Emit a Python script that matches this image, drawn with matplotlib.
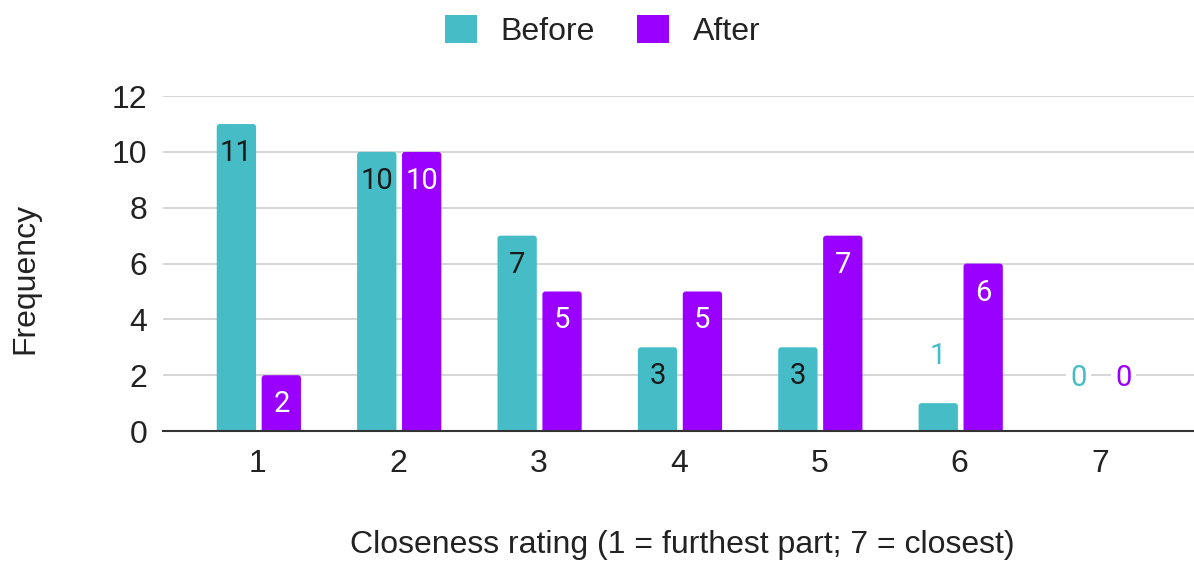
import matplotlib
matplotlib.use("Agg")
import matplotlib.pyplot as plt
from matplotlib.patches import FancyBboxPatch, Patch
import numpy as np

plt.rcParams['font.family'] = ['Liberation Sans', 'DejaVu Sans']

categories = ["1", "2", "3", "4", "5", "6", "7"]
before = [11, 10, 7, 3, 3, 1, 0]
after = [2, 10, 5, 5, 7, 6, 0]
yticks = [0, 2, 4, 6, 8, 10, 12]

TEAL = "#46bdc6"
PURPLE = "#9900ff"
TEXT = "#222222"
AX_FS = 23
LBL_FS = 21

W, H = 1194, 562
fig = plt.figure(figsize=(W / 100, H / 100), dpi=100)
ax = fig.add_axes([0.1365, 0.233, 0.8635, 0.596])
ax.set_xlim(0.325, 7.67)
ax.set_ylim(0, 12)

x = np.arange(1, len(categories) + 1)
w = 0.28

# pixel scale of the data units, used for corner rounding
ux = ax.get_position().width * W / (7.67 - 0.325)
uy = ax.get_position().height * H / 12.0
r_px = 3.0


def draw_bars(centers, values, color):
    for cx, v in zip(centers, values):
        if v <= 0:
            continue
        r = r_px / ux
        p = FancyBboxPatch((cx - w / 2 + r, -0.3), w - 2 * r, v + 0.3 - r * ux / uy,
                           boxstyle=f"round,pad={r},rounding_size={r}",
                           mutation_aspect=ux / uy, fc=color, ec="none", zorder=3)
        ax.add_patch(p)


xb = x - 0.152
xa = x + 0.168
draw_bars(xb, before, TEAL)
draw_bars(xa, after, PURPLE)


def px(v):
    return v * 0.72


def label_bars(centers, values, inside_color, outside_color):
    for cx, v in zip(centers, values):
        kw = dict(ha="center", va="center", fontsize=LBL_FS, family=["Roboto", "DejaVu Sans"],
                  textcoords="offset points", zorder=4)
        if v >= 2:
            ax.annotate(str(v), (cx, v), xytext=(0, -px(29)), color=inside_color, **kw)
        elif v == 0:
            ax.annotate(str(v), (cx, v), xytext=(0, px(53)), color=outside_color,
                        bbox=dict(boxstyle="square,pad=0.15", fc="white", ec="none"), **kw)
        else:
            ax.annotate(str(v), (cx, v), xytext=(0, px(47)), color=outside_color, **kw)


label_bars(xb, before, "#1a1a1a", TEAL)
label_bars(xa, after, "white", PURPLE)

ax.set_yticks(yticks)
ax.set_yticklabels([str(t) for t in yticks])
ax.set_xticks(x)
ax.set_xticklabels(categories)
ax.tick_params(axis="both", length=0, labelsize=AX_FS, colors=TEXT)
ax.tick_params(axis="y", pad=11.5)
ax.tick_params(axis="x", pad=13)
ax.grid(axis="y", color="#d0d0d0", linewidth=1.2, zorder=0)
for s in ["top", "right", "left"]:
    ax.spines[s].set_visible(False)
ax.spines["bottom"].set_color("#333333")
ax.spines["bottom"].set_linewidth(1.5)
ax.spines["bottom"].set_zorder(5)

fig.text(25 / W, 1 - 278 / H, "Frequency", rotation=90, ha="center", va="center",
         fontsize=AX_FS, color=TEXT)
fig.text(682 / W, 1 - 545 / H, "Closeness rating (1 = furthest part; 7 = closest)",
         ha="center", va="center", fontsize=AX_FS, color=TEXT)

handles = [Patch(facecolor=TEAL, edgecolor="none"), Patch(facecolor=PURPLE, edgecolor="none")]
leg = fig.legend(handles=handles, labels=["Before", "After"], loc="center",
                 bbox_to_anchor=(0.5046, 0.945), ncol=2, frameon=False, fontsize=AX_FS,
                 handlelength=1.0, handleheight=1.0, columnspacing=1.3, handletextpad=0.75)
for t in leg.get_texts():
    t.set_color(TEXT)

fig.savefig("out.png", dpi=100)
